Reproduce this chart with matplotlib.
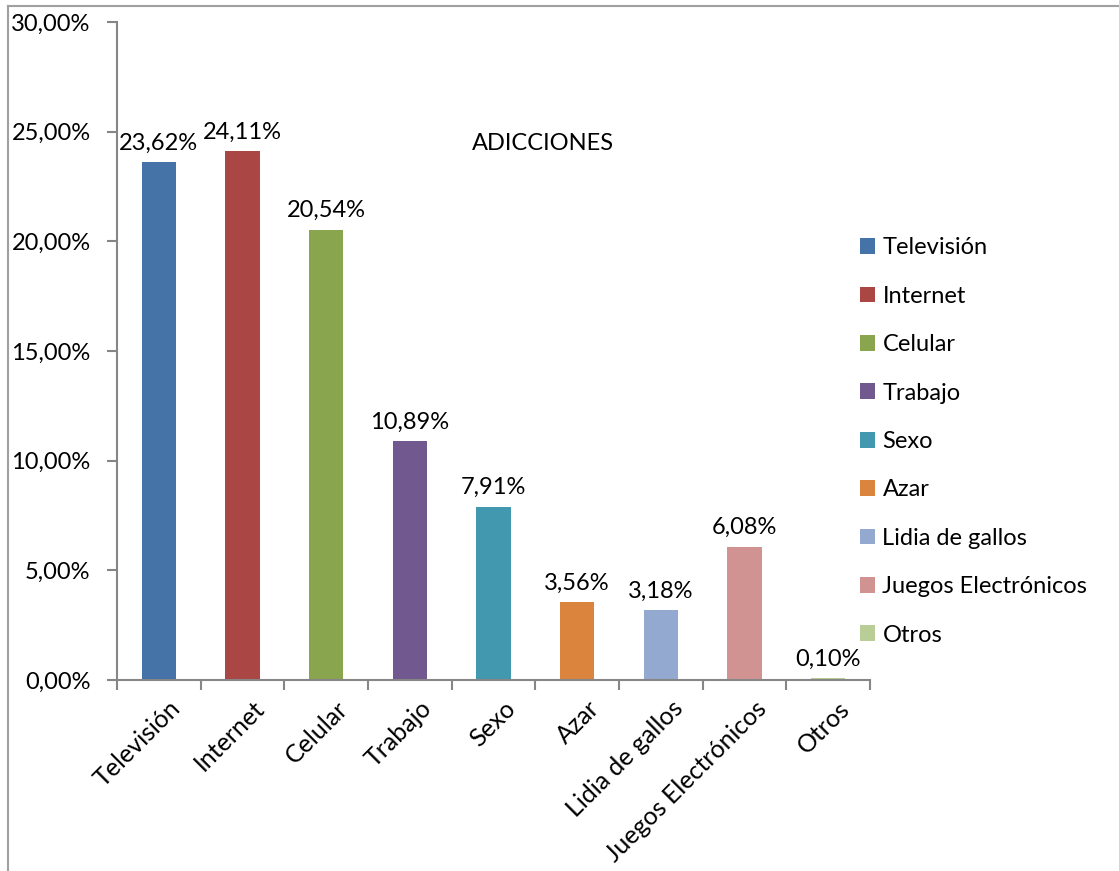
import matplotlib.pyplot as plt
from matplotlib.patches import Patch
from matplotlib.lines import Line2D
from matplotlib.ticker import FuncFormatter
import numpy as np

plt.rcParams['font.family'] = ['Lato', 'DejaVu Sans']

# Adicciones reportadas (%)
categorias = ['Televisión', 'Internet', 'Celular', 'Trabajo', 'Sexo', 'Azar',
              'Lidia de gallos', 'Juegos Electrónicos', 'Otros']
porcentajes = [23.62, 24.11, 20.54, 10.89, 7.91, 3.56, 3.18, 6.08, 0.10]
colores = ['#4572A7', '#AA4643', '#89A54E', '#71588F', '#4198AF',
           '#DB843D', '#93A9CF', '#D19392', '#B9CD96']

FS = 17

def pct(v, pos=None):
    return f'{v:.2f}%'.replace('.', ',')

fig = plt.figure(figsize=(11.19, 8.71), dpi=100)
ax = fig.add_axes([0.1046, 0.2193, 0.6729, 0.7554])

x = np.arange(len(categorias))
bars = ax.bar(x, porcentajes, width=0.41, color=colores)

for xi, v in zip(x, porcentajes):
    ax.annotate(pct(v), (xi, v), xytext=(0, 6), textcoords='offset points',
                ha='center', va='bottom', fontsize=FS)

ax.set_xlim(-0.5, len(categorias) - 0.5)
ax.set_ylim(0, 30)
ax.set_yticks(np.arange(0, 31, 5))
ax.yaxis.set_major_formatter(FuncFormatter(pct))
ax.set_xticks(x + 0.12)
ax.set_xticklabels(categorias, rotation=45, ha='right', rotation_mode='anchor')
ax.set_xticks(np.arange(-0.5, len(categorias)), minor=True)

gris = '#868686'
for s in ['top', 'right']:
    ax.spines[s].set_visible(False)
for s in ['left', 'bottom']:
    ax.spines[s].set_color(gris)
    ax.spines[s].set_linewidth(1.5)
ax.tick_params(axis='y', length=7, width=1.5, color=gris, labelsize=FS, pad=12)
ax.tick_params(axis='x', which='major', length=0, labelsize=18, pad=12)
ax.tick_params(axis='x', which='minor', length=7, width=1.5, color=gris)

fig.text(0.485, 0.835, 'ADICCIONES', ha='center', va='center', fontsize=FS)

handles = [Patch(facecolor=c, label=n) for c, n in zip(colores, categorias)]
fig.legend(handles=handles, loc='upper left', bbox_to_anchor=(0.758, 0.741),
           frameon=False, fontsize=FS, handlelength=0.65, handleheight=0.65,
           handletextpad=0.3, labelspacing=1.16, borderpad=0)

# marco del gráfico (bordes superior e izquierdo)
fig.add_artist(Line2D([0.0072, 0.0072], [0, 0.9935], color='#a0a0a0', lw=1.5,
                      transform=fig.transFigure))
fig.add_artist(Line2D([0.0072, 1.0], [0.9935, 0.9935], color='#a0a0a0', lw=1.5,
                      transform=fig.transFigure))

fig.savefig('out.png', dpi=100)
